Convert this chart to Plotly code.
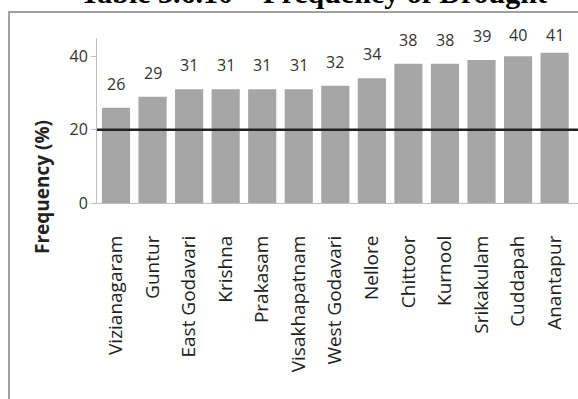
import plotly.graph_objects as go

districts = ["Vizianagaram", "Guntur", "East Godavari", "Krishna", "Prakasam",
             "Visakhapatnam", "West Godavari", "Nellore", "Chittoor", "Kurnool",
             "Srikakulam", "Cuddapah", "Anantapur"]
frequency = [26, 29, 31, 31, 31, 31, 32, 34, 38, 38, 39, 40, 41]
threshold = 20
y_ticks = [0, 20, 40]
title_text = "Table 3.6.10 – Frequency of Drought"
y_title = "Frequency (%)"

W, H = 578, 399
L, R, T, B = 97, 0, 38, 196
PW, PH = W - L - R, H - T - B
Y_MAX = 45

def px_x(x):
    return (x - L) / PW

def px_y(y):
    return (H - B - y) / PH

fig = go.Figure()
fig.add_trace(go.Bar(
    x=list(range(len(districts))), y=frequency,
    marker=dict(color="#a6a6a6", line=dict(width=0)),
    width=0.77, hoverinfo="skip", showlegend=False,
))

for i, v in enumerate(frequency):
    top_px = H - B - v * PH / Y_MAX
    centre_px = max(top_px - 24, 35)
    fig.add_annotation(x=i, y=v, xref="x", yref="y", text=str(v), showarrow=False,
                       yanchor="middle", yshift=top_px - centre_px,
                       font=dict(family="Open Sans", size=16, color="#333333"))

fig.add_shape(type="line", xref="paper", yref="y", x0=0, x1=1, y0=threshold, y1=threshold,
              line=dict(color="#222222", width=2.5))

# chart border
fig.add_shape(type="rect", xref="paper", yref="paper",
              x0=px_x(9), x1=px_x(590), y0=px_y(420), y1=px_y(12),
              line=dict(color="#a0a0a0", width=2), fillcolor="rgba(0,0,0,0)", layer="below")

fig.add_annotation(xref="paper", yref="paper", x=px_x(313), y=px_y(11), text="<b>" + title_text + "</b>",
                   showarrow=False, xanchor="center", yanchor="bottom",
                   font=dict(family="Liberation Serif", size=30, color="#000000"))

fig.add_annotation(xref="paper", yref="paper", x=px_x(42), y=px_y(187), text="<b>" + y_title + "</b>",
                   showarrow=False, textangle=-90, xanchor="center", yanchor="middle",
                   font=dict(family="Open Sans", size=19, color="#222222"))

fig.update_layout(
    width=W, height=H,
    margin=dict(l=L, r=R, t=T, b=B, pad=0),
    paper_bgcolor="white", plot_bgcolor="white",
    bargap=0.23,
    xaxis=dict(range=[-0.52, 12.64], tickmode="array", tickvals=list(range(len(districts))),
               ticktext=districts, tickangle=-90, showgrid=False, zeroline=False,
               showline=True, linecolor="#bfbfbf", linewidth=1, ticks="",
               ticklabelstandoff=24,
               tickfont=dict(family="Open Sans", size=19, color="#222222")),
    yaxis=dict(range=[0, Y_MAX], tickvals=y_ticks, showgrid=False, zeroline=False,
               showline=True, linecolor="#bfbfbf", linewidth=1, ticks="outside",
               ticklen=5, tickcolor="#bfbfbf",
               tickfont=dict(family="Open Sans", size=16, color="#333333")),
)

fig.write_html("out.html")
